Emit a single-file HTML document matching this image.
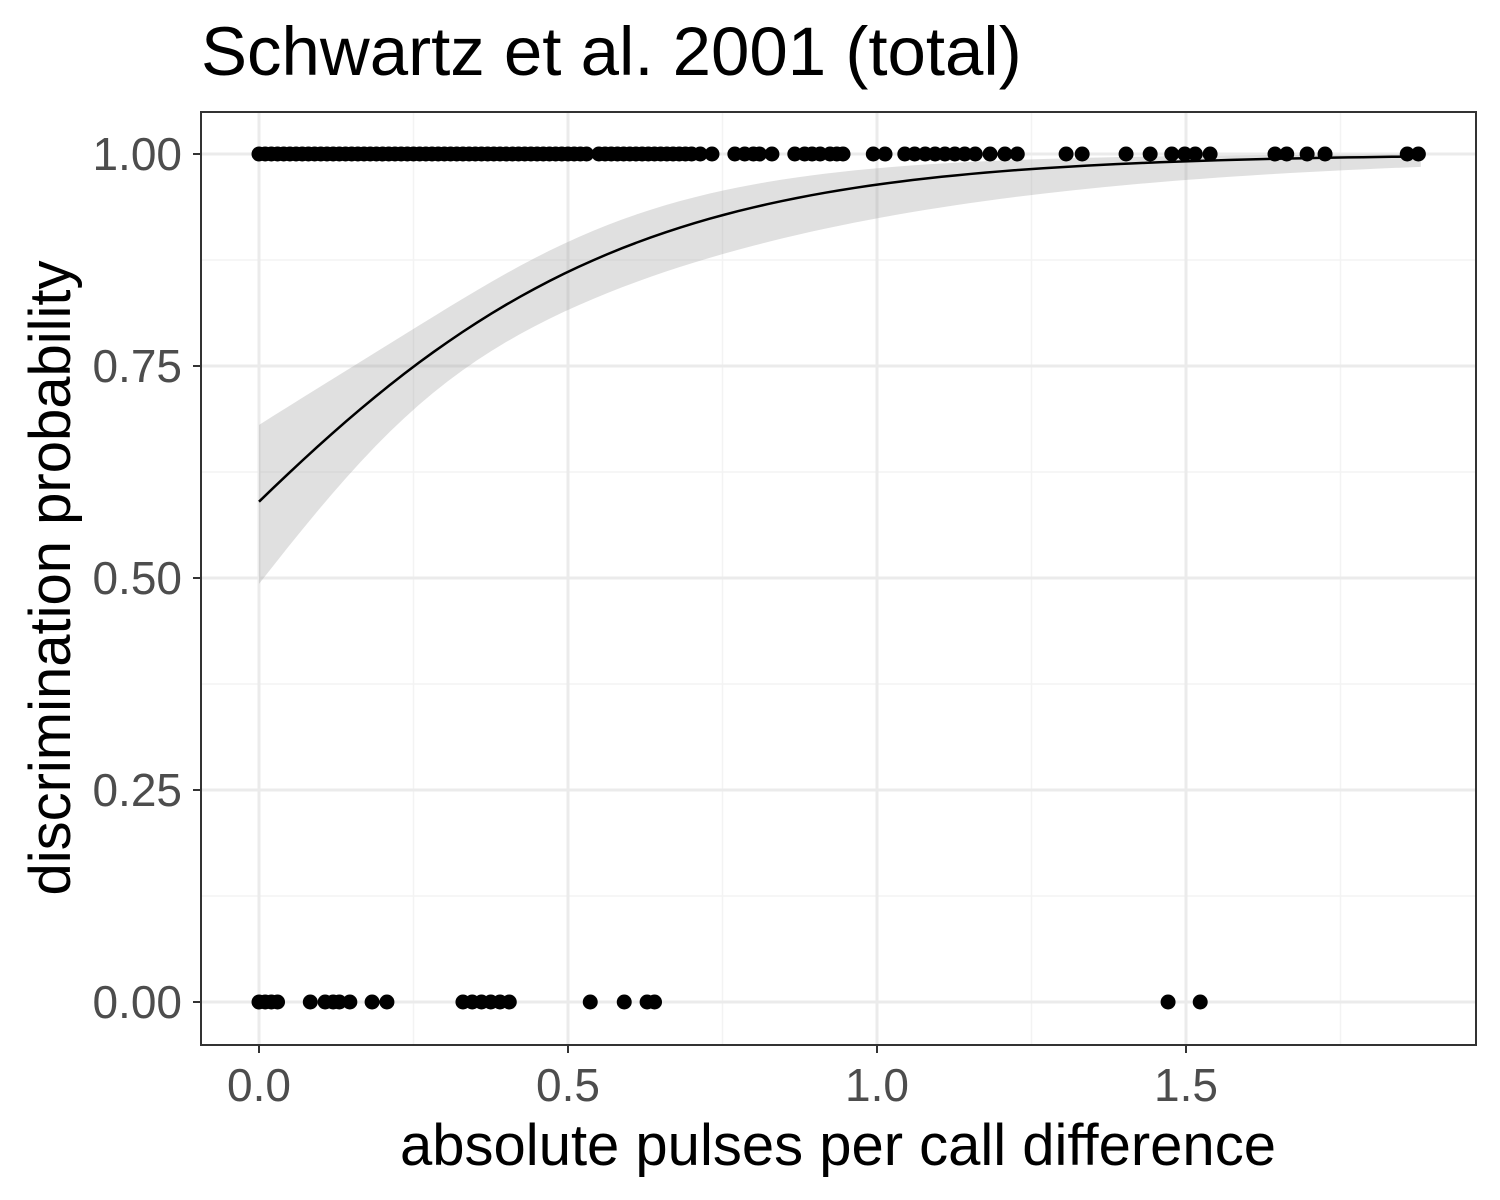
<!DOCTYPE html>
<html><head><meta charset="utf-8"><style>
body{margin:0;background:#fff;}
svg{display:block;font-family:"Liberation Sans",Arial,sans-serif;}
</style></head><body>
<svg id="chart" width="1500" height="1200">
<text x="201" y="75" font-size="69" fill="#000">Schwartz et al. 2001 (total)</text>
<g id="grid"></g><g id="band"></g><g id="curve"></g><g id="pts"></g>
<rect x="201" y="112" width="1275" height="933" fill="none" stroke="#333" stroke-width="2"/>
<g id="axes"></g>
<text x="838" y="1165" font-size="58" text-anchor="middle" fill="#000">absolute pulses per call difference</text>
<text transform="translate(70,578) rotate(-90)" font-size="58" text-anchor="middle" fill="#000">discrimination probability</text>
</svg>
<script>
const xTicks=[0,0.5,1.0,1.5];
const xTickLabels=["0.0","0.5","1.0","1.5"];
const yTicks=[0,0.25,0.5,0.75,1];
const yTickLabels=["0.00","0.25","0.50","0.75","1.00"];
const intercept=0.364, slope=2.92;
const seA=0.04, seB=-0.082, seC=0.284;
const xMin=0, xMax=1.88;
const dense=[];for(let i=0;i<=53;i++)dense.push(i/100);
const mid=[];for(let i=55;i<=70;i++)mid.push(i/100);
const yesX=dense.concat(mid,[0.714,0.733,0.77,0.786,0.8,0.81,0.83,0.867,0.883,0.895,0.908,0.924,0.935,0.945,0.994,1.013,1.045,1.061,1.078,1.094,1.11,1.126,1.142,1.159,1.183,1.207,1.227,1.306,1.332,1.403,1.442,1.477,1.498,1.515,1.539,1.644,1.663,1.696,1.725,1.858,1.876]);
const noX=[0,0.01,0.02,0.03,0.083,0.107,0.12,0.13,0.147,0.183,0.207,0.33,0.345,0.36,0.375,0.39,0.405,0.536,0.591,0.628,0.64,1.471,1.523];
const NS="http://www.w3.org/2000/svg";
const X=v=>259+v*618, Y=v=>1002-v*848;
function mk(t,a,p){const e=document.createElementNS(NS,t);for(const k in a)e.setAttribute(k,a[k]);p.appendChild(e);return e;}
const g=document.getElementById('grid');
[0.25,0.75,1.25,1.75].forEach(v=>{const l=mk('line',{x1:X(v),x2:X(v),y1:112,y2:1045,stroke:'#f3f3f3','stroke-width':1.5},g);

});
[0.125,0.375,0.625,0.875].forEach(v=>{const l=mk('line',{x1:201,x2:1476,y1:Y(v),y2:Y(v),stroke:'#f3f3f3','stroke-width':1.5},g);

});
const ax=document.getElementById('axes');
xTicks.forEach((v,i)=>{const l=mk('line',{x1:X(v),x2:X(v),y1:112,y2:1045,stroke:'#ebebeb','stroke-width':3},g);


const t=mk('line',{x1:X(v),x2:X(v),y1:1045,y2:1053,stroke:'#333','stroke-width':2},ax);


const tx=mk('text',{x:X(v),y:1101,'font-size':46,fill:'#4d4d4d','text-anchor':'middle'},ax);tx.textContent=xTickLabels[i];

});
yTicks.forEach((v,i)=>{const l=mk('line',{x1:201,x2:1476,y1:Y(v),y2:Y(v),stroke:'#ebebeb','stroke-width':3},g);


const t=mk('line',{x1:193,x2:201,y1:Y(v),y2:Y(v),stroke:'#333','stroke-width':2},ax);


const tx=mk('text',{x:182,y:Y(v)+16,'font-size':46,fill:'#4d4d4d','text-anchor':'end'},ax);tx.textContent=yTickLabels[i];

});
const inv=z=>1/(1+Math.exp(-z));
let up=[],lo=[],mid2=[];
for(let i=0;i<=80;i++){const x=xMin+(xMax-xMin)*i/80;const z=intercept+slope*x;const se=Math.sqrt(seA+2*seB*x+seC*x*x);
mid2.push(X(x)+','+Y(inv(z)));up.push(X(x)+','+Y(inv(z+1.96*se)));lo.push(X(x)+','+Y(inv(z-1.96*se)));}
const band=mk('polygon',{points:up.concat(lo.reverse()).join(' '),fill:'#999',opacity:0.3},document.getElementById('band'));


const cv=mk('polyline',{points:mid2.join(' '),fill:'none',stroke:'#000','stroke-width':2.5},document.getElementById('curve'));


const pg=document.getElementById('pts');
yesX.forEach(v=>{const c=mk('circle',{cx:X(v),cy:Y(1),r:7.5,fill:'#000'},pg);

});
noX.forEach(v=>{const c=mk('circle',{cx:X(v),cy:Y(0),r:7.5,fill:'#000'},pg);

});
</script>
</body></html>
